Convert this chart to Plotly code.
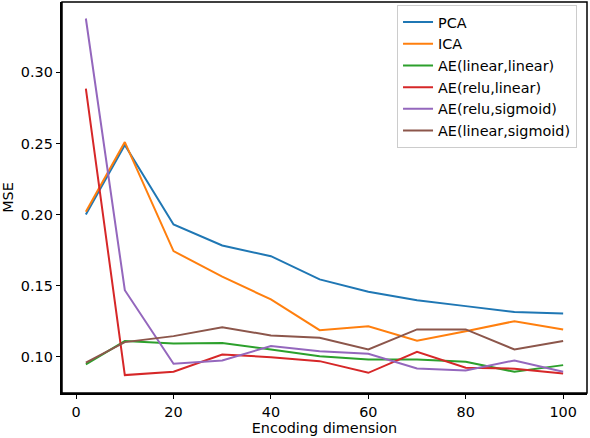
import plotly.graph_objects as go

dims = [2, 10, 20, 30, 40, 50, 60, 70, 80, 90, 100]

pca = [0.200, 0.249, 0.193, 0.1783, 0.1707, 0.1544, 0.1457, 0.1398, 0.1356, 0.1314, 0.1304]
ica = [0.202, 0.251, 0.1743, 0.1563, 0.1403, 0.1187, 0.1215, 0.1113, 0.118, 0.125, 0.1192]
ae_lin_lin = [0.0946, 0.111, 0.1094, 0.1096, 0.1051, 0.1004, 0.098, 0.098, 0.0965, 0.0894, 0.0941]
ae_relu_lin = [0.2885, 0.0871, 0.0894, 0.1016, 0.0997, 0.0969, 0.0887, 0.1035, 0.0923, 0.0916, 0.0883]
ae_relu_sig = [0.3379, 0.1468, 0.0951, 0.0974, 0.1075, 0.1039, 0.1021, 0.0918, 0.0904, 0.0974, 0.0894]
ae_lin_sig = [0.0958, 0.1103, 0.1145, 0.1208, 0.115, 0.1134, 0.1051, 0.1192, 0.1192, 0.1051, 0.111]

series = [
    ("PCA", pca, "#1f77b4"),
    ("ICA", ica, "#ff7f0e"),
    ("AE(linear,linear)", ae_lin_lin, "#2ca02c"),
    ("AE(relu,linear)", ae_relu_lin, "#d62728"),
    ("AE(relu,sigmoid)", ae_relu_sig, "#9467bd"),
    ("AE(linear,sigmoid)", ae_lin_sig, "#8c564b"),
]

fs = 14.4

fig = go.Figure()
for name, vals, col in series:
    fig.add_trace(go.Scatter(x=dims, y=vals, mode="lines", name=name,
                             line=dict(color=col, width=2)))

axis_style = dict(showline=True, linecolor="black", linewidth=1.5,
                  ticks="outside", ticklen=4.5, tickwidth=1, tickcolor="black",
                  showgrid=False, zeroline=False, automargin=False,
                  tickfont=dict(family="DejaVu Sans", size=fs, color="black"))

fig.update_layout(
    width=590, height=438,
    margin=dict(l=62, r=3, t=2, b=45),
    plot_bgcolor="white", paper_bgcolor="white",
    font=dict(family="DejaVu Sans", size=fs, color="black"),
    xaxis=dict(range=[-2.9, 104.9], tick0=0, dtick=20,
               title=dict(text="Encoding dimension", standoff=2,
                          font=dict(family="DejaVu Sans", size=fs)), **axis_style),
    yaxis=dict(range=[0.0745, 0.3495], tick0=0, dtick=0.05, tickformat=".2f",
               title=dict(text="MSE", standoff=9,
                          font=dict(family="DejaVu Sans", size=fs)), **axis_style),
    legend=dict(x=0.981, y=0.992, xanchor="right", yanchor="top",
                bgcolor="rgba(255,255,255,0.8)", bordercolor="#cccccc", borderwidth=1,
                font=dict(family="DejaVu Sans", size=fs)),
)

# axes frame (top and right sides)
fig.add_shape(type="rect", xref="paper", yref="paper", x0=0, y0=0, x1=1, y1=1,
              line=dict(color="black", width=1.5), layer="above")

# page body has a default margin; drop it so the figure sits at 0,0
fig.write_html("out.html", config={"displayModeBar": False},
               post_script="document.body.style.margin='0px';")
